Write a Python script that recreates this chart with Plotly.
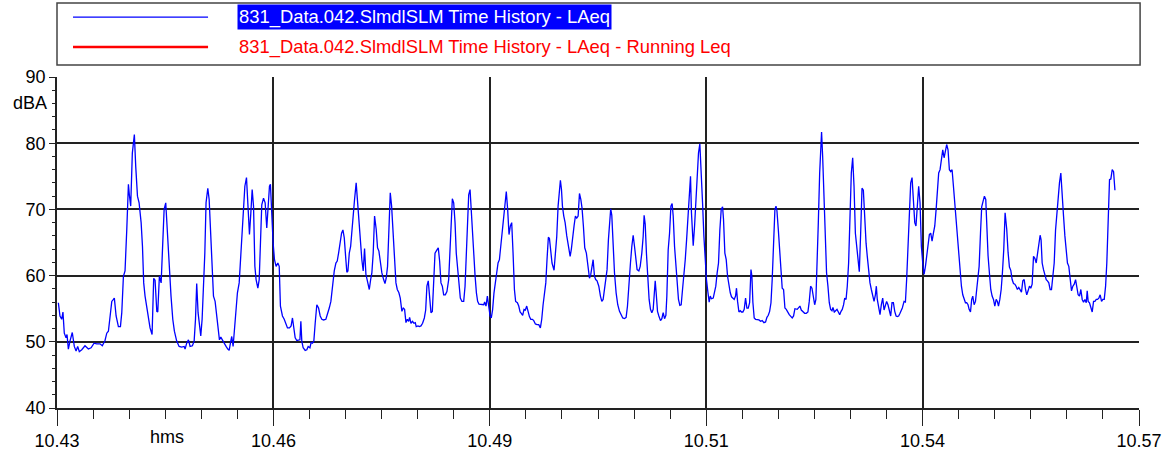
import plotly.graph_objects as go

# Elapsed time (s) from start of the displayed window, and LAeq (dBA)
time_s = [
    1.0, 2.2, 3.5, 4.4, 5.4, 6.7, 7.4, 8.4, 9.6, 11.3, 12.8, 14.1, 15.3, 16.5, 18.3, 20.7, 23.2, 25.2, 27.4, 29.4,
    31.8, 33.5, 35.5, 36.8, 38.0, 39.2, 40.5, 41.7, 42.4, 43.7, 45.4, 46.9, 47.9, 49.1, 50.3, 51.6, 52.8, 53.5, 54.5, 55.7,
    57.2, 58.2, 59.5, 60.7, 62.2, 63.2, 64.1, 65.1, 66.4, 67.6, 68.8, 70.3, 71.5, 72.5, 73.8, 74.5, 75.7, 77.0, 77.9,
    79.2, 80.4, 81.6, 82.9, 84.3, 85.6, 86.8, 88.5, 90.3, 92.2, 94.0, 94.7, 95.9, 97.2, 98.4, 100.1, 101.4, 102.4, 103.3, 104.3,
    105.3, 106.3, 107.3, 108.3, 109.3, 110.2, 111.5, 112.5, 113.5, 114.4, 115.7, 116.9, 118.1, 119.4, 120.1, 121.1, 122.1, 123.1, 124.1, 125.0,
    126.3, 127.3, 128.5, 129.2, 130.2, 131.2, 132.4, 133.4, 134.7, 135.7, 136.6, 137.6, 138.9, 140.1, 141.3, 142.3, 143.3, 144.3, 145.3, 146.3,
    147.2, 148.5, 149.5, 150.5, 151.4, 152.7, 153.9, 155.1, 155.9, 157.1,
    157.8, 158.6, 159.8, 160.8, 162.0, 163.3, 164.3, 165.2, 166.7, 168.0, 169.2, 170.4, 171.9, 173.1, 174.1, 175.1, 176.1, 177.3, 178.6, 179.6,
    180.3, 181.0, 182.0, 183.5, 184.7, 185.7, 187.0, 187.9, 188.9, 189.9, 190.9, 192.1, 193.4, 194.6, 195.8, 197.1, 198.8, 200.0, 201.3, 202.5,
    203.7, 205.0, 206.2, 207.2, 208.2, 209.2, 210.4, 211.4, 212.4, 213.4, 214.3, 215.1, 216.1, 217.1, 218.0, 219.0, 220.0, 221.2, 222.0, 223.0,
    224.2, 225.4, 226.4, 227.4, 228.4, 229.6, 230.9, 231.9, 232.8, 233.8, 234.8,
    236.0, 237.0, 238.0, 239.0, 240.2, 241.5, 242.5, 243.4, 244.4, 245.4, 246.4, 247.4, 248.4, 249.4, 250.6, 251.6, 252.8, 253.8, 255.0, 256.0,
    257.0, 258.0, 259.0, 260.0, 260.7, 261.7, 262.9, 263.9, 264.9, 265.6, 266.9, 267.9, 269.1, 270.3, 271.6, 272.6, 273.5, 274.5, 275.5, 276.5,
    277.5, 278.5, 279.5, 280.7, 281.9, 282.9, 283.9, 284.9, 285.9, 287.1, 288.3, 289.6, 290.3, 291.3, 292.3, 293.3, 294.3, 295.2, 296.2, 297.2,
    298.2, 299.4, 300.7, 301.7, 302.6, 303.6, 304.4, 305.4, 306.1, 307.1, 308.1, 309.1, 310.1, 311.0, 312.0,
    313.0, 314.2, 315.5, 316.2, 317.2, 318.2, 319.2, 320.2, 321.1, 322.1, 323.1, 324.1, 325.1, 326.1, 327.1, 328.1, 329.0, 330.0, 331.0, 332.2,
    333.2, 334.2, 335.2, 336.2, 337.2, 338.2, 339.1, 340.4, 341.4, 342.4, 343.3, 344.3, 345.3, 346.3, 347.3, 348.3, 349.3, 350.3, 351.5, 352.5,
    353.7, 354.9, 356.2, 357.4, 358.4, 359.4, 360.4, 361.4, 362.3, 363.3, 364.1, 365.1, 366.0, 367.5, 368.5, 369.5, 370.5, 371.2, 372.2, 373.0,
    373.7, 374.7, 375.7, 376.9, 378.1, 379.4, 380.3, 381.3, 382.3, 383.3, 384.3, 385.3, 386.3, 387.3, 388.2, 389.2, 390.2,
    391.4, 392.4, 393.7, 394.6, 395.6, 396.4, 397.4, 398.3, 399.3, 400.6, 401.8, 402.8, 403.8, 404.8, 405.7, 406.7, 407.7, 408.7, 409.4, 410.2,
    411.2, 412.2, 413.4, 414.6, 415.9, 417.1, 418.3, 419.6, 420.8, 421.8, 422.8, 424.0, 425.0, 426.0, 427.0, 428.0, 428.9, 430.2, 431.2, 432.4,
    433.4, 434.1, 434.9, 435.8, 436.8, 437.8, 438.8, 439.8, 440.8, 441.8, 442.3, 443.0, 444.0, 445.0, 446.2, 447.2, 448.2, 449.2, 450.2, 450.9,
    451.9, 452.9, 453.9, 454.8, 455.6, 456.6, 457.6, 458.5, 459.5, 460.5, 461.5, 462.5, 463.5, 464.5, 465.5, 466.4, 467.4, 468.4,
    469.1, 470.4, 471.4, 472.3, 473.3, 474.3, 475.3, 476.3, 477.3, 478.3, 479.3, 480.2, 481.2, 482.2, 483.0, 483.9, 485.2, 486.2, 487.1, 488.1,
    489.1, 490.1, 491.1, 492.1, 492.8, 493.8, 494.8, 495.8, 496.8, 497.8, 498.7, 499.7, 500.7, 501.7, 502.4, 503.2, 504.2, 505.2, 506.1, 507.1,
    508.1, 509.1, 510.1, 511.1, 512.1, 513.1, 513.8, 514.5, 515.5, 516.5, 517.7, 519.0, 520.2, 521.4, 522.7, 523.9, 524.9, 525.9, 526.9, 527.9,
    528.8, 529.8, 530.8, 531.6, 532.3, 533.3, 534.3, 535.3, 536.2, 537.2, 538.2, 539.2, 540.2, 541.4, 542.7, 543.6, 544.6, 545.6,
    547.3, 548.6, 549.3, 550.3, 551.5, 552.8, 554.0, 555.2, 556.2, 557.2, 558.2, 559.2, 560.2, 561.1, 561.9, 562.9, 563.9, 564.6, 565.3, 566.1,
    567.1, 568.1, 569.0, 570.0, 571.0, 572.0, 573.0, 573.7, 574.7, 575.7, 576.7, 577.7, 578.7, 579.7, 580.6, 581.6, 582.4, 583.4, 584.3, 585.3,
    586.3, 587.3, 588.3, 589.3, 590.3, 591.2, 592.2, 593.2, 594.2, 595.2, 596.2, 597.2, 598.2, 599.1, 600.1, 601.1, 602.1, 603.1, 604.1, 605.1,
    605.8, 606.5, 607.5, 608.5, 609.5, 610.5, 611.5, 612.5, 613.4, 614.4, 615.4, 616.4, 617.4, 618.4, 619.4, 620.4, 621.3, 622.3, 623.3,
    625.0, 626.3, 627.3, 628.2, 629.2, 630.2, 631.2, 632.2, 633.2, 634.2, 635.1, 636.1, 637.1, 638.1, 639.1, 640.1, 641.1, 642.1, 643.0, 644.0,
    645.0, 646.0, 647.0, 648.0, 649.0, 650.0, 650.9, 651.9, 652.9, 653.9, 654.9, 655.9, 656.9, 657.8, 658.8, 659.8, 660.8, 661.8, 662.8, 663.8,
    664.8, 665.7, 666.7, 667.7, 668.7, 669.7, 670.7, 671.7, 672.6, 673.6, 674.4, 675.4, 676.3, 677.1, 678.1, 679.1, 680.0, 681.0, 681.8, 682.8,
    683.7, 684.7, 685.7, 686.7, 687.4, 688.4, 689.4, 690.4, 691.4, 692.4, 693.4, 694.4, 695.3, 696.1, 697.1, 698.1, 699.0, 700.0, 701.0,
    702.2, 703.2, 704.2, 705.2, 706.2, 707.2, 708.2, 709.1, 710.1, 711.1, 712.1, 713.1, 714.1, 715.1, 716.1, 717.0, 718.0, 719.0, 720.0, 721.0,
    722.0, 723.0, 724.0, 724.9, 725.9, 726.9, 727.6, 728.4, 729.4, 730.4, 731.4, 732.3, 733.3, 734.3, 735.3, 736.3, 737.3, 738.3, 739.2, 740.2,
    741.2, 742.2, 743.2, 744.2, 745.2, 746.2, 747.1, 748.1, 749.1, 750.1, 751.1, 752.1, 753.1, 754.0, 755.0, 756.0, 757.0, 758.0, 759.0, 760.0,
    761.0, 761.7, 762.4, 763.4, 764.4, 765.4, 766.4, 767.4, 768.4, 769.3, 770.3, 771.3, 772.3, 773.3, 774.3, 775.3, 776.2, 777.2, 778.2, 779.2,
    780.2, 781.2, 782.2,
]
laeq_dba = [
    55.9, 53.9, 53.4, 54.5, 51.3, 50.6, 51.1, 48.9, 50.1, 51.4, 49.3, 48.6, 49.3, 48.5, 48.8, 49.4, 48.9, 49.1, 49.8, 49.7,
    49.7, 49.4, 50.2, 51.3, 51.6, 53.4, 56.1, 56.4, 56.6, 53.9, 52.3, 52.3, 54.4, 59.9, 60.7, 67.0, 73.8, 72.2, 70.5, 78.5,
    81.3, 76.5, 72.0, 71.0, 68.0, 64.4, 58.9, 56.9, 55.4, 53.4, 52.1, 51.1, 59.6, 59.3, 54.6, 54.5, 59.9, 58.9, 64.4,
    70.0, 71.0, 66.4, 60.9, 56.9, 53.4, 51.6, 50.1, 49.3, 49.2, 49.3, 48.9, 49.8, 50.3, 49.3, 49.4, 50.1, 53.4, 58.8, 54.4,
    52.1, 50.9, 53.4, 58.4, 63.4, 71.0, 73.2, 71.5, 67.0, 61.4, 56.9, 56.1, 53.9, 52.1, 50.3, 50.7, 50.3, 50.1, 49.6, 49.3,
    48.9, 48.7, 50.1, 50.8, 49.3, 51.8, 55.9, 57.4, 58.9, 62.4, 66.4, 70.0, 73.5, 74.8, 70.0, 66.2, 69.4, 73.0, 70.5, 61.4,
    59.4, 58.1, 59.4, 66.4, 70.7, 71.7, 71.0, 67.2, 70.5, 73.5,
    73.8, 69.5, 64.9, 62.4, 61.4, 61.9, 61.4, 55.4, 53.9, 53.4, 52.6, 52.1, 52.1, 52.4, 53.6, 52.1, 50.6, 50.2, 50.3, 50.3,
    53.1, 50.1, 49.1, 48.7, 48.8, 49.3, 49.1, 49.9, 49.8, 50.1, 52.8, 55.6, 55.1, 53.9, 53.4, 53.3, 53.4, 54.1, 55.1, 56.1,
    58.4, 60.7, 61.9, 62.2, 63.4, 64.9, 66.4, 66.9, 65.7, 62.9, 60.5, 60.7, 63.4, 64.4, 66.9, 68.5, 71.5, 74.0, 71.5, 68.5,
    64.9, 62.4, 60.7, 64.1, 60.2, 58.9, 57.9, 59.4, 60.4, 63.4, 69.0,
    67.0, 64.2, 63.7, 61.9, 60.4, 59.4, 58.8, 59.6, 61.4, 66.9, 72.5, 70.5, 66.9, 62.4, 58.9, 57.9, 57.4, 56.6, 54.6, 55.1,
    54.9, 52.9, 53.4, 53.1, 53.7, 52.8, 53.1, 52.8, 52.9, 52.3, 52.4, 52.3, 52.4, 52.8, 53.6, 54.8, 58.4, 59.2, 56.9, 54.4,
    54.6, 58.4, 63.4, 63.8, 64.2, 62.2, 58.9, 58.4, 57.1, 57.1, 57.6, 59.4, 62.4, 68.0, 71.6, 71.0, 68.0, 63.4, 60.9, 58.1,
    56.6, 56.1, 56.1, 58.4, 63.4, 69.5, 72.2, 73.0, 70.5, 67.0, 62.4, 60.0, 57.4, 56.1, 55.7,
    55.7, 55.6, 55.6, 56.0, 55.4, 56.9, 55.1, 53.9, 53.6, 54.9, 57.4, 58.9, 61.2, 61.9, 62.4, 64.4, 65.7, 67.5, 69.5, 72.7,
    70.0, 66.2, 67.5, 68.0, 63.4, 57.9, 56.1, 55.9, 55.4, 54.5, 54.3, 54.0, 54.9, 54.8, 55.4, 54.4, 53.8, 53.4, 53.4, 53.2,
    52.7, 52.6, 52.6, 52.1, 53.4, 55.6, 57.1, 58.9, 62.4, 65.8, 65.6, 64.0, 61.9, 60.8, 63.4, 65.9, 70.5, 72.7, 74.4, 73.0,
    70.5, 69.0, 68.0, 66.0, 64.2, 62.9, 64.0, 65.4, 67.5, 69.0, 68.7, 69.0, 72.4, 71.5, 70.2, 67.5, 64.2,
    63.4, 61.9, 59.6, 60.1, 61.2, 62.4, 59.9, 59.4, 59.2, 58.4, 56.9, 56.1, 56.4, 57.9, 59.4, 60.9, 65.4, 69.5, 70.1, 69.1,
    64.4, 60.4, 57.4, 55.6, 54.6, 54.0, 53.6, 53.5, 53.7, 55.4, 58.9, 61.9, 64.4, 66.1, 64.4, 62.4, 60.9, 60.7, 61.4, 63.4,
    65.9, 69.1, 67.8, 63.4, 59.4, 56.4, 54.9, 54.4, 54.9, 57.4, 59.2, 57.4, 54.6, 53.9, 53.2, 53.5, 54.4, 53.5, 54.0, 56.9,
    63.9, 66.4, 70.5, 70.9, 69.0, 64.4, 61.4, 58.4, 56.4, 55.5, 55.6, 57.9, 59.9, 62.4, 65.4, 69.0, 73.0, 75.0,
    69.5, 64.5, 67.5, 71.0, 75.0, 78.5, 79.9, 76.0, 71.0, 65.9, 61.4, 59.4, 57.6, 56.0, 56.9, 56.5, 56.6, 57.4, 58.4, 60.4,
    61.9, 66.9, 70.0, 70.4, 68.5, 63.4, 62.4, 59.9, 58.4, 57.4, 56.8, 56.6, 56.4, 56.9, 58.1, 56.1, 54.5, 54.7, 54.5, 54.5,
    54.9, 56.6, 55.1, 55.1, 55.9, 60.9, 59.9, 56.0, 53.6, 53.4, 53.4, 53.3, 53.1, 53.2, 52.9, 53.0, 53.7, 54.0, 54.6, 55.9,
    59.4, 64.9, 70.0, 70.5, 69.8, 67.0, 63.9, 61.4, 58.1, 57.9, 55.1, 54.9, 54.4, 54.1, 53.8, 53.6, 53.9, 55.0,
    54.9, 55.2, 55.4, 54.8, 54.5, 54.3, 54.3, 54.5, 56.1, 58.4, 58.1, 56.4, 55.6, 56.4, 60.4, 68.0, 75.5, 80.0, 81.7, 78.0,
    71.0, 64.4, 60.4, 58.4, 55.9, 54.9, 54.7, 55.2, 54.5, 54.7, 54.9, 54.5, 54.1, 54.6, 54.9, 55.6, 56.6, 56.4, 58.4, 61.9,
    67.5, 75.5, 77.8, 73.5, 66.4, 64.4, 62.9, 60.6, 66.4, 73.2, 72.9, 68.5, 64.9, 62.9, 60.2, 58.9, 57.9, 56.9, 56.1, 57.1,
    58.4, 56.4, 55.1, 54.1, 55.6, 56.6, 54.8, 55.4, 56.1, 55.6, 54.8, 53.9, 55.9, 55.9, 54.6, 53.9, 53.8, 53.9, 54.3,
    55.1, 56.1, 56.0, 59.4, 64.4, 68.5, 74.0, 74.8, 72.0, 68.0, 67.5, 70.5, 73.5, 71.0, 64.4, 61.9, 60.2, 61.4, 62.9, 63.7,
    66.2, 66.4, 65.2, 66.4, 67.5, 70.0, 72.5, 75.5, 76.0, 77.5, 79.0, 77.8, 79.3, 79.8, 79.0, 76.0, 75.7, 76.0, 73.5, 71.0,
    67.5, 65.0, 63.5, 60.4, 58.4, 57.1, 56.4, 55.9, 55.9, 55.6, 54.9, 54.5, 56.4, 56.9, 55.6, 56.1, 57.9, 59.4, 61.4, 66.4,
    70.4, 71.2, 72.0, 71.5, 67.0, 63.0, 60.4, 57.9, 56.9, 56.4, 55.4, 56.4, 56.1, 55.4, 56.4, 57.9, 60.4, 63.9, 69.5,
    67.0, 63.5, 61.3, 60.8, 59.4, 58.8, 58.7, 58.4, 57.9, 58.2, 57.7, 57.5, 59.2, 59.4, 57.9, 57.1, 57.7, 58.4, 58.1, 58.7,
    62.9, 62.6, 61.9, 63.4, 64.4, 66.1, 65.4, 61.9, 60.9, 60.2, 59.4, 59.2, 58.9, 57.9, 57.9, 59.9, 61.9, 66.9, 69.5, 71.5,
    74.0, 75.5, 71.0, 69.0, 66.0, 64.0, 61.9, 61.4, 59.4, 57.7, 58.4, 58.7, 59.4, 58.1, 57.1, 56.9, 57.9, 56.4, 56.0, 56.4,
    55.9, 57.7, 56.1, 55.9, 55.1, 54.5, 56.1, 56.1, 56.4, 56.4, 56.6, 57.1, 56.1, 56.4, 56.4, 58.4, 61.9, 68.5, 74.5, 74.6,
    76.0, 75.7, 72.9,
]

x_tick_vals = [0, 160, 320, 480, 640, 800]
x_tick_text = ["10.43", "10.46", "10.49", "10.51", "10.54", "10.57"]
series_names = [
    "831_Data.042.SlmdlSLM Time History - LAeq",
    "831_Data.042.SlmdlSLM Time History - LAeq - Running Leq",
]

FONT = "Liberation Sans, Arial, sans-serif"

fig = go.Figure()
fig.add_trace(go.Scatter(
    x=time_s, y=laeq_dba, mode="lines",
    line=dict(color="#0000ff", width=1.3),
    showlegend=False, hoverinfo="skip",
))

fig.update_layout(
    width=1171, height=450,
    margin=dict(l=57, r=32, t=77, b=42, autoexpand=False),
    paper_bgcolor="white", plot_bgcolor="white",
    font=dict(family=FONT, size=18, color="black"),
    showlegend=False,
)
fig.update_xaxes(
    range=[0, 800], tickmode="array", tickvals=x_tick_vals, ticktext=x_tick_text,
    showgrid=True, gridcolor="#222222", gridwidth=1.5,
    showline=True, linecolor="#222222", linewidth=1.5,
    ticks="outside", ticklen=16, tickcolor="#222222", tickwidth=1,
    minor=dict(dtick=160 / 6, tick0=0, ticks="outside", ticklen=9, tickcolor="#222222", showgrid=False),
    zeroline=False, tickfont=dict(size=18), automargin=False,
)
fig.update_yaxes(
    range=[40, 90], dtick=10,
    showgrid=True, gridcolor="#222222", gridwidth=1.5,
    showline=True, linecolor="#222222", linewidth=1.5,
    ticks="outside", ticklen=6, tickcolor="#222222",
    minor=dict(dtick=2, ticks="outside", ticklen=3, tickcolor="#222222", showgrid=False),
    zeroline=False, tickfont=dict(size=18), automargin=False,
)

# Legend box drawn manually
fig.add_shape(type="rect", xref="paper", yref="paper", x0=0, x1=1.001, y0=1.036, y1=1.2236,
              line=dict(color="#444444", width=1.5), fillcolor="white")
fig.add_shape(type="line", xref="paper", yref="paper", x0=0.0148, x1=0.1396, y0=1.181, y1=1.181,
              line=dict(color="#0000ff", width=1.2))
fig.add_shape(type="line", xref="paper", yref="paper", x0=0.0148, x1=0.1396, y0=1.0906, y1=1.0906,
              line=dict(color="#ff0000", width=2.5))
fig.add_annotation(xref="paper", yref="paper", x=0.1664, y=1.181, xanchor="left", yanchor="middle",
                   text=series_names[0], showarrow=False, bgcolor="#0000ff", borderpad=1,
                   font=dict(color="white", size=18.4))
fig.add_annotation(xref="paper", yref="paper", x=0.1664, y=1.0906, xanchor="left", yanchor="middle",
                   text=series_names[1], showarrow=False,
                   font=dict(color="#ff0000", size=18.4))
fig.add_annotation(xref="paper", yref="paper", x=-0.025, y=0.921, xanchor="center", yanchor="middle",
                   text="dBA", showarrow=False, font=dict(size=18))
fig.add_annotation(xref="paper", yref="paper", x=0.1017, y=-0.0876, xanchor="center", yanchor="middle",
                   text="hms", showarrow=False, font=dict(size=18))

fig.write_html("out.html", config={"displayModeBar": False},
               post_script="document.body.style.margin='0';")
